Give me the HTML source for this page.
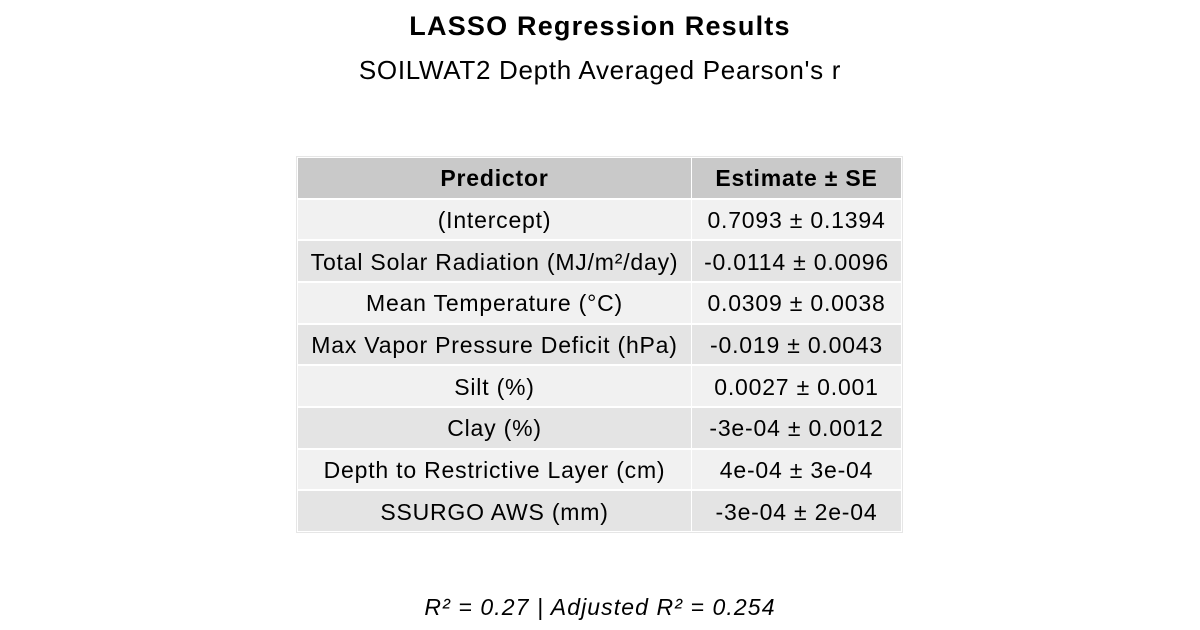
<!DOCTYPE html>
<html><head><meta charset="utf-8"><style>
body{margin:0;width:1200px;height:630px;background:#fff;font-family:"Liberation Sans",Arial,sans-serif;position:relative;overflow:hidden}
.t{position:absolute;left:0;width:1200px;text-align:center;color:#000}
#tbl{position:absolute;left:297px;top:157px;width:605px;height:375px;background:#fff;outline:1px solid #e6e6e6}
.c{position:absolute;display:flex;align-items:center;justify-content:center;font-size:23px;letter-spacing:0.8px;color:#000;box-sizing:border-box;padding-top:2px}
</style></head><body>
<div class="t" style="top:11px;font-size:27px;font-weight:bold;letter-spacing:1.2px">LASSO Regression Results</div>
<div class="t" style="top:55px;font-size:26px;letter-spacing:0.7px">SOILWAT2 Depth Averaged Pearson's r</div>
<div id="tbl"></div>
<div class="t" style="top:594px;font-size:23px;font-style:italic;letter-spacing:1.1px">R² = 0.27 | Adjusted R² = 0.254</div>
<script>
const predictors=["(Intercept)","Total Solar Radiation (MJ/m²/day)","Mean Temperature (°C)","Max Vapor Pressure Deficit (hPa)","Silt (%)","Clay (%)","Depth to Restrictive Layer (cm)","SSURGO AWS (mm)"];
const estimates=["0.7093 ± 0.1394","-0.0114 ± 0.0096","0.0309 ± 0.0038","-0.019 ± 0.0043","0.0027 ± 0.001","-3e-04 ± 0.0012","4e-04 ± 3e-04","-3e-04 ± 2e-04"];
const tbl=document.getElementById('tbl');
const rowH=375/9, colX=[1,395], colW=[393,209];
function cell(txt,r,c,bg,bold){
  const d=document.createElement('div');
  d.className='c';
  
  
  d.style.left=colX[c]+'px';d.style.width=colW[c]+'px';
  d.style.top=(r*rowH+1)+'px';d.style.height=(rowH-2)+'px';
  d.style.background=bg;if(bold)d.style.fontWeight='bold';
  d.textContent=txt;tbl.appendChild(d);
}
cell("Predictor",0,0,"#c9c9c9",true);
cell("Estimate ± SE",0,1,"#c9c9c9",true);
predictors.forEach((p,i)=>{
  const bg=i%2===0?"#f1f1f1":"#e4e4e4";
  cell(p,i+1,0,bg,false);
  cell(estimates[i],i+1,1,bg,false);
});
</script>
</body></html>
